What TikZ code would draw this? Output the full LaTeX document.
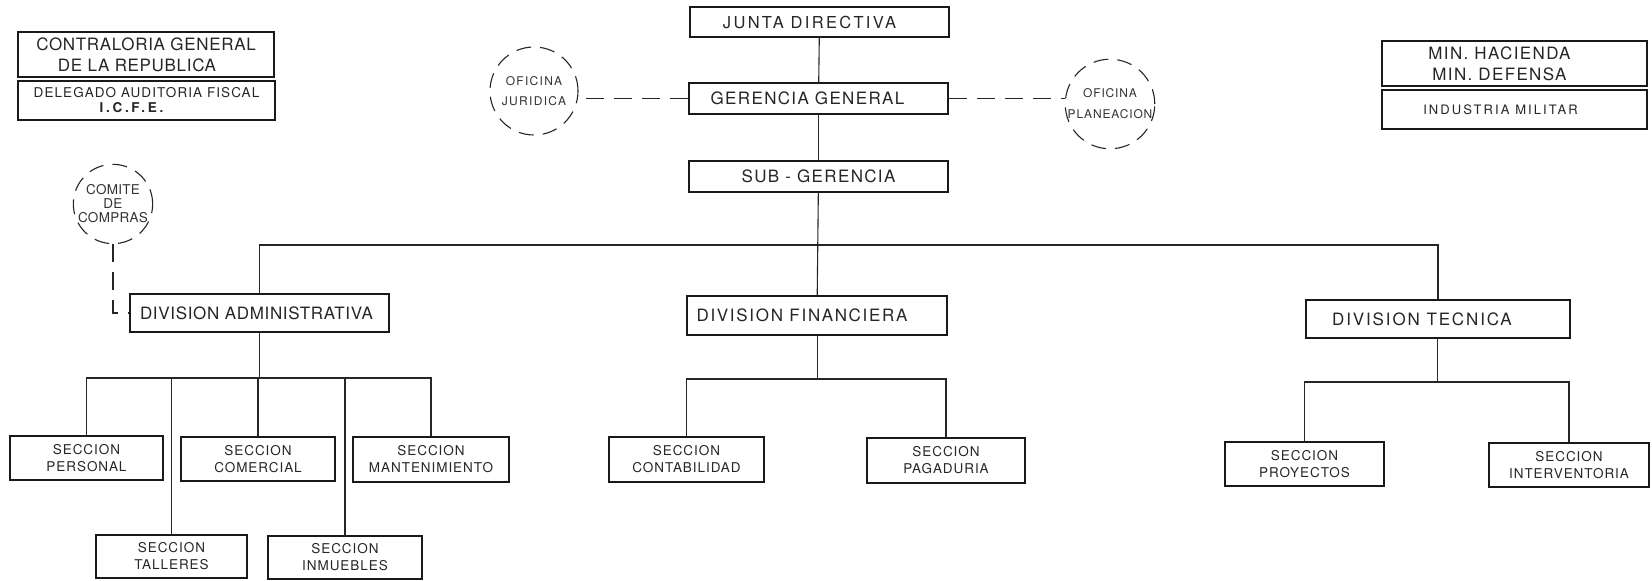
\documentclass[tikz,border=0pt]{standalone}
\usepackage{fontspec}
\setmainfont{TeX Gyre Heros}
\newcommand\myfnt[3]{\fontsize{#1}{#2}\selectfont\addfontfeature{LetterSpace=#3}}
\begin{document}
\begin{tikzpicture}[x=1pt,y=-1pt,
  box/.style={draw=black!90, line width=1.6pt, inner sep=0pt, align=center, text=black!85},
  circ/.style={circle, draw=black!85, line width=1.1pt, dash pattern=on 15pt off 9pt, inner sep=0pt, align=center, text=black!80},
  conn/.style={line width=1.1pt, draw=black!85},
  dconn/.style={conn, dash pattern=on 18pt off 10pt},
  secc/.style={box, font=\myfnt{13.5}{17}{7}}]
\useasboundingbox (0,0) rectangle (1652,581);
\fill[white] (0,0) rectangle (1652,581);

% top-left
\node[box, minimum width=256pt, minimum height=45pt, font=\myfnt{17}{21}{4}] (contra) at (146,54.5) {CONTRALORIA GENERAL\\DE LA REPUBLICA\kern18pt};
\node[box, minimum width=257pt, minimum height=39pt, font=\myfnt{13.5}{15}{8}] (deleg) at (146.5,100.5) {DELEGADO AUDITORIA FISCAL\\{\bfseries\addfontfeature{LetterSpace=20}I.C.F.E.}\kern30pt};

% top-right
\node[box, minimum width=265pt, minimum height=45pt, font=\myfnt{17}{21}{8}] (minh) at (1514.5,63.5) {MIN. HACIENDA\kern30pt\\MIN. DEFENSA\kern30pt};
\node[box, minimum width=265pt, minimum height=39pt, font=\myfnt{13}{15}{16}] (indus) at (1514.5,109.5) {INDUSTRIA MILITAR\kern28pt};

% central column
\node[box, minimum width=259pt, minimum height=30pt, font=\myfnt{16.5}{20}{14}] (junta) at (819.5,22) {JUNTA DIRECTIVA\kern20pt};
\node[box, minimum width=259pt, minimum height=31pt, font=\myfnt{17}{20}{8}] (geren) at (818.5,98.5) {GERENCIA GENERAL\kern22pt};
\node[box, minimum width=259pt, minimum height=31pt, font=\myfnt{17}{20}{8}] (subg) at (818.5,176.5) {SUB - GERENCIA};

% circles
\node[circ, minimum size=88pt, font=\myfnt{12}{20}{11}] (juridica) at (534,91) {OFICINA\\JURIDICA};
\node[circ, minimum size=88pt, font=\myfnt{12}{21}{7}] (planeacion) at (1110,104) {OFICINA\\PLANEACION};
\node[circ, minimum size=78pt, font=\myfnt{13.5}{14}{2}] (comite) at (113,204) {COMITE\\DE\\COMPRAS};

% divisions
\node[box, minimum width=259pt, minimum height=38pt, font=\myfnt{17}{20}{4}] (divadm) at (259.5,313) {DIVISION ADMINISTRATIVA\kern6pt};
\node[box, minimum width=260pt, minimum height=39pt, font=\myfnt{17}{20}{10}] (divfin) at (817,315.5) {DIVISION FINANCIERA\kern30pt};
\node[box, minimum width=264pt, minimum height=38pt, font=\myfnt{17}{20}{11}] (divtec) at (1438,319) {DIVISION TECNICA\kern32pt};

% sections
\node[secc, minimum width=153pt, minimum height=44pt] (personal) at (86.5,458) {SECCION\\PERSONAL};
\node[secc, minimum width=154pt, minimum height=44pt] (comercial) at (258,459) {SECCION\\COMERCIAL};
\node[secc, minimum width=156pt, minimum height=45pt] (mant) at (431,459.5) {SECCION\\MANTENIMIENTO};
\node[secc, minimum width=151pt, minimum height=43pt] (talleres) at (171.5,556.5) {SECCION\\TALLERES};
\node[secc, minimum width=154pt, minimum height=43pt] (inmuebles) at (345,557.5) {SECCION\\INMUEBLES};
\node[secc, minimum width=155pt, minimum height=45pt] (contab) at (686.5,459.5) {SECCION\\CONTABILIDAD};
\node[secc, minimum width=158pt, minimum height=45pt] (pagad) at (946,460.5) {SECCION\\PAGADURIA};
\node[secc, minimum width=159pt, minimum height=44pt] (proy) at (1304.5,464) {SECCION\\PROYECTOS};
\node[secc, minimum width=160pt, minimum height=44pt] (interv) at (1569,465) {SECCION\\INTERVENTORIA};

% solid connectors
\draw[conn] (junta) -- (geren);
\draw[conn] (geren) -- (subg);
\draw[conn] (subg) -- (divfin);
\coordinate (bus) at (818,245);
\draw[conn] (divadm.north) |- (bus) -| (divtec.north);

\coordinate (abus) at (259.5,378);
\draw[conn] (divadm.south) -- (abus);
\draw[conn] (personal.north) |- (abus) -| (mant.north);
\draw[conn] (comercial.north) -- (comercial.north |- abus);
\draw[conn] (talleres.north) -- (talleres.north |- abus);
\draw[conn] (inmuebles.north) -- (inmuebles.north |- abus);

\coordinate (fbus) at (817.5,379);
\draw[conn] (divfin.south -| fbus) -- (fbus);
\draw[conn] (contab.north) |- (fbus) -| (pagad.north);

\coordinate (tbus) at (1437.5,382);
\draw[conn] (divtec.south -| tbus) -- (tbus);
\draw[conn] (proy.north) |- (tbus) -| (interv.north);

% dashed connectors
\draw[dconn] (geren.west) -- (geren.west -| juridica.east);
\draw[dconn] (geren.east) -- (geren.east -| planeacion.west);
\draw[dconn] (comite.south) |- (divadm.west);
\end{tikzpicture}
\end{document}
